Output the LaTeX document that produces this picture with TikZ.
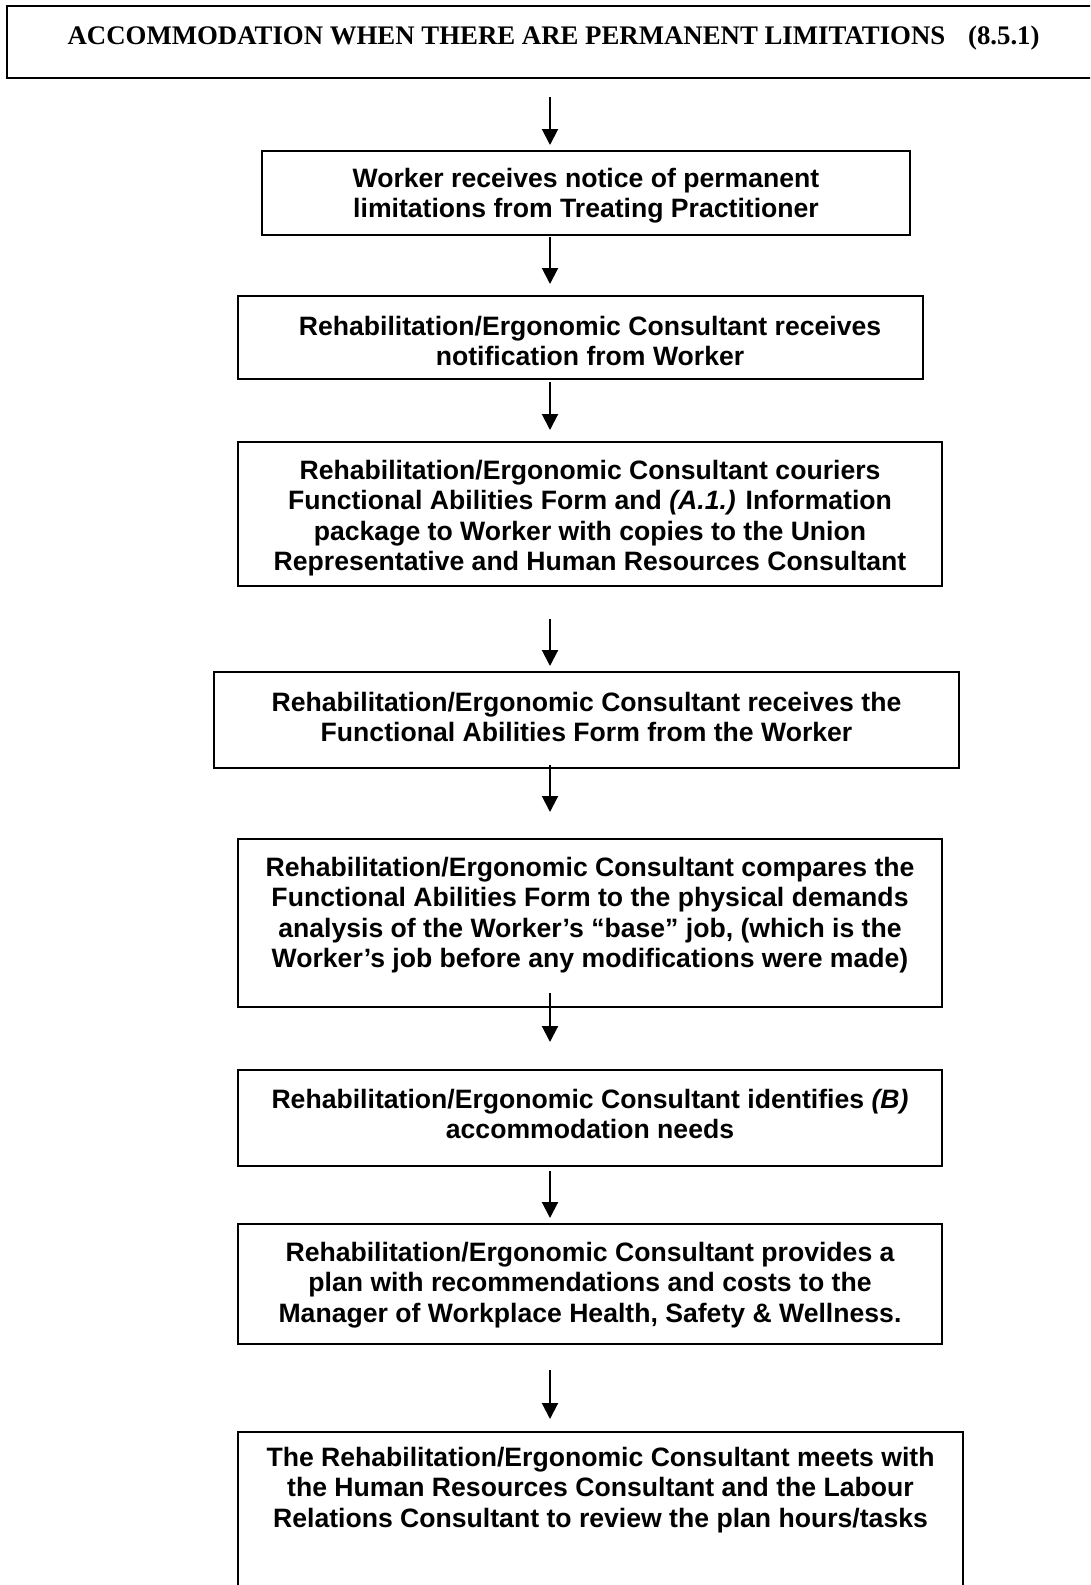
\documentclass[tikz,border=0pt]{standalone}
\usepackage{fontspec}
\setmainfont{Liberation Sans}
\newfontfamily\titlefont{Liberation Serif}
\usetikzlibrary{arrows.meta}
\begin{document}
\begin{tikzpicture}[x=1pt,y=-1pt,
  boxline/.style={draw=black, line width=2pt},
  txt/.style={inner sep=0pt, align=center, font=\bfseries\fontsize{26.6}{30.3}\selectfont},
  arr/.style={line width=2pt, -{Triangle[width=16pt,length=16pt]}}]
\useasboundingbox (0,0) rectangle (1090,1585);
\clip (0,0) rectangle (1090,1585);
% title
\draw[boxline] (7,6) rectangle (1120,78);
\node[inner sep=0pt, font=\titlefont\bfseries\fontsize{26.8}{30}\selectfont] (title) at (553.6,38.5)
  {ACCOMMODATION WHEN THERE ARE PERMANENT LIMITATIONS\hspace{0.6em} (8.5.1)};
\coordinate (tb) at (550,78);
% boxes
\path[boxline] (262,151) rectangle (910,235);
\coordinate (b1n) at (550,151); \coordinate (b1s) at (550,235);
\node[txt] (t1) at (586,196) {Worker receives notice of permanent\\limitations from Treating Practitioner};

\path[boxline] (238,296) rectangle (923,379);
\coordinate (b2n) at (550,296); \coordinate (b2s) at (550,379);
\node[txt] (t2) at (590,341) {Rehabilitation/Ergonomic Consultant receives\\notification from Worker};

\path[boxline] (238,442) rectangle (942,586);
\coordinate (b3n) at (550,442); \coordinate (b3s) at (550,586);
\node[txt] (t3) at (590,518) {Rehabilitation/Ergonomic Consultant couriers\\Functional Abilities Form and \textit{(A.1.)} Information\\package to Worker with copies to the Union\\Representative and Human Resources Consultant};

\path[boxline] (214,672) rectangle (959,768);
\coordinate (b4n) at (550,672); \coordinate (b4s) at (550,768);
\node[txt] (t4) at (586.5,717) {Rehabilitation/Ergonomic Consultant receives the\\Functional Abilities Form from the Worker};

\path[boxline] (238,839) rectangle (942,1007);
\coordinate (b5n) at (550,839); \coordinate (b5s) at (550,1007);
\node[txt] (t5) at (590,915) {Rehabilitation/Ergonomic Consultant compares the\\Functional Abilities Form to the physical demands\\analysis of the Worker’s “base” job, (which is the\\Worker’s job before any modifications were made)};

\path[boxline] (238,1070) rectangle (942,1166);
\coordinate (b6n) at (550,1070); \coordinate (b6s) at (550,1166);
\node[txt] (t6) at (590,1114) {Rehabilitation/Ergonomic Consultant identifies \textit{(B)}\\accommodation needs};

\path[boxline] (238,1224) rectangle (942,1344);
\coordinate (b7n) at (550,1224); \coordinate (b7s) at (550,1344);
\node[txt] (t7) at (590,1285) {Rehabilitation/Ergonomic Consultant provides a\\plan with recommendations and costs to the\\Manager of Workplace Health, Safety \& Wellness.};

\path[boxline] (238,1620) -- (238,1432) -- (963,1432) -- (963,1620);
\coordinate (b8n) at (550,1432);
\node[txt] (t8) at (600.5,1490) {The Rehabilitation/Ergonomic Consultant meets with\\the Human Resources Consultant and the Labour\\Relations Consultant to review the plan hours/tasks};

% connectors
\draw[arr, shorten <=19pt, shorten >=6pt] (tb) -- (b1n);
\draw[arr, shorten <=2pt, shorten >=12pt] (b1s) -- (b2n);
\draw[arr, shorten <=3pt, shorten >=12pt] (b2s) -- (b3n);
\draw[arr, shorten <=33pt, shorten >=6pt] (b3s) -- (b4n);
\draw[arr, shorten <=-3pt, shorten >=27pt] (b4s) -- (b5n);
\draw[arr, shorten <=-14pt, shorten >=28pt] (b5s) -- (b6n);
\draw[arr, shorten <=5pt, shorten >=6pt] (b6s) -- (b7n);
\draw[arr, shorten <=26pt, shorten >=13pt] (b7s) -- (b8n);
\end{tikzpicture}
\end{document}
